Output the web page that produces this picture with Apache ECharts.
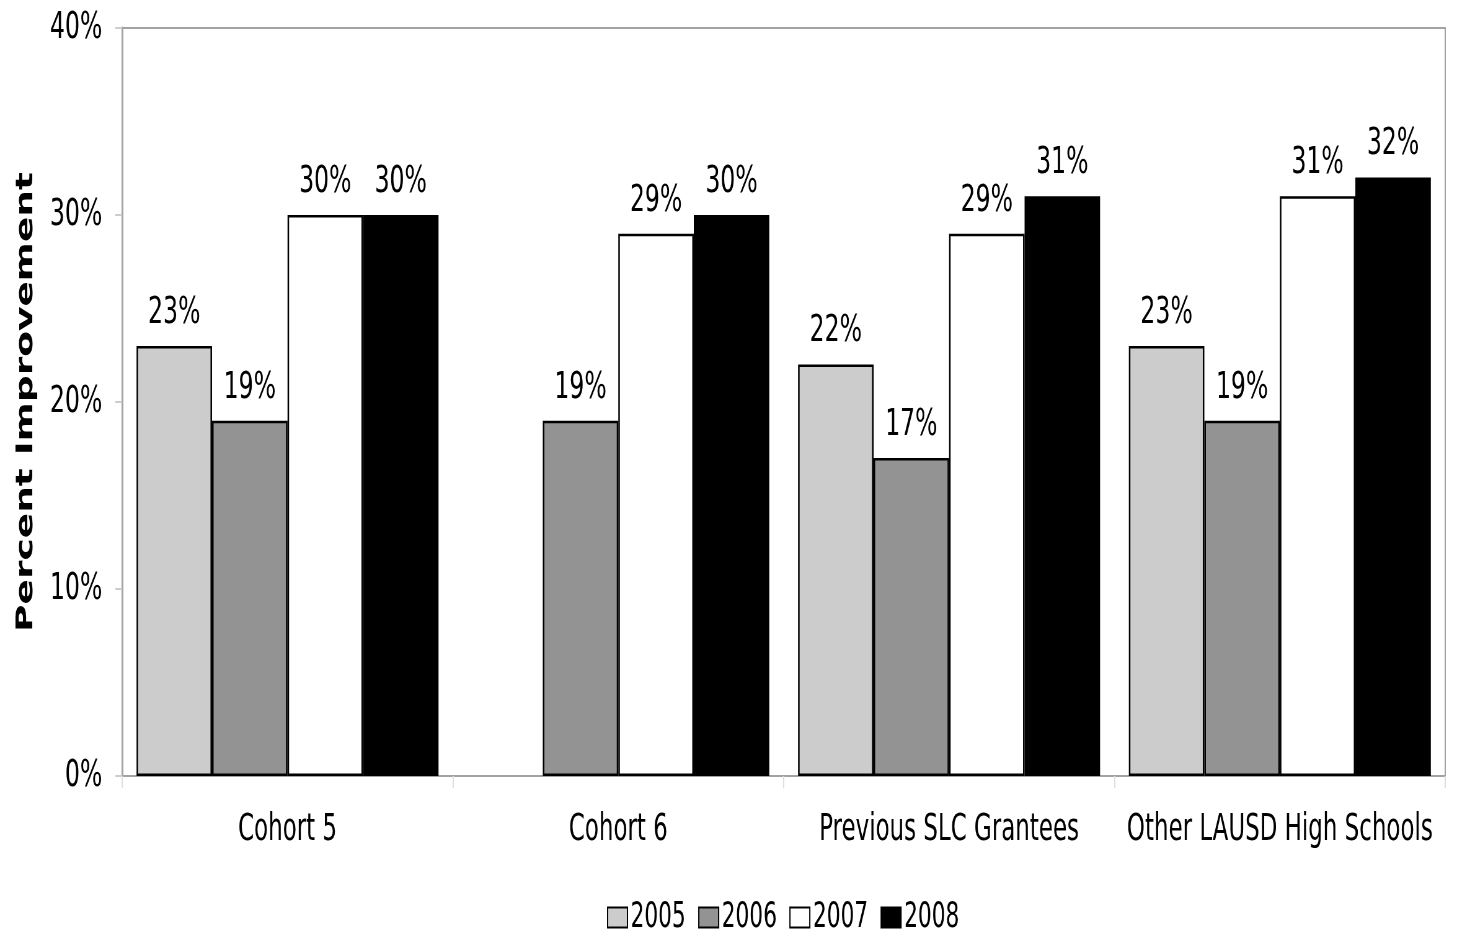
<!DOCTYPE html>
<html>
<head>
<meta charset="utf-8">
<script src="https://cdn.jsdelivr.net/npm/echarts@6/dist/echarts.min.js"></script>
<style>
  html, body { margin: 0; padding: 0; background: #fff; overflow: hidden; }
  #wrap { width: 1457px; height: 931px; overflow: hidden; }
  /* chart is laid out wide, then narrowed horizontally */
  #chart { width: 2350px; height: 931px; transform: scaleX(0.62); transform-origin: 0 0; }
</style>
</head>
<body>
<div id="wrap"><div id="chart"></div></div>
<script>
const categories = ['Cohort 5', 'Cohort 6', 'Previous SLC Grantees', 'Other LAUSD High Schools'];
const years = ['2005', '2006', '2007', '2008'];
const values2005 = [23, null, 22, 23];
const values2006 = [19, 19, 17, 19];
const values2007 = [30, 29, 29, 31];
const values2008 = [30, 30, 31, 32];
const yTicks = [0, 10, 20, 30, 40];

const seriesValues = [values2005, values2006, values2007, values2008];
const fills = ['#cccccc', '#939393', '#ffffff', '#000000'];
const FONT = 'DejaVu Sans';

const chart = echarts.init(document.getElementById('chart'), null, { renderer: 'canvas' });

chart.setOption({
  backgroundColor: '#ffffff',
  animation: false,
  textStyle: { fontFamily: FONT, color: '#000' },
  grid: {
    left: 197, right: 19, top: 28, bottom: 155,
    show: true, borderColor: '#a3a3a3', borderWidth: 2, backgroundColor: 'transparent'
  },
  legend: {
    data: years,
    left: 974, top: 895,
    icon: 'rect',
    itemWidth: 32, itemHeight: 20, itemGap: 20,
    textStyle: { fontFamily: FONT, fontSize: 35, color: '#000' },
    itemStyle: { borderColor: '#000', borderWidth: 2 }
  },
  xAxis: {
    type: 'category',
    data: categories,
    axisLine: { lineStyle: { color: '#a3a3a3', width: 2 } },
    axisTick: { show: true, interval: 0, length: 12, lineStyle: { color: '#dddddd', width: 2 } },
    axisLabel: { interval: 0, fontFamily: FONT, fontSize: 37, color: '#000', margin: 36 }
  },
  yAxis: {
    type: 'value',
    min: yTicks[0], max: yTicks[yTicks.length - 1], interval: 10,
    name: 'Percent Improvement',
    nameLocation: 'middle',
    nameGap: 136,
    nameTextStyle: { fontFamily: FONT, fontWeight: 'bold', fontSize: 37.5, color: '#000' },
    splitLine: { show: false },
    axisLine: { show: true, lineStyle: { color: '#a3a3a3', width: 3 } },
    axisTick: { show: true, length: 11, lineStyle: { color: '#cccccc', width: 2 } },
    axisLabel: { fontFamily: FONT, fontSize: 38, color: '#000', margin: 32, formatter: '{value}%' }
  },
  series: years.map((y, i) => ({
    name: y,
    type: 'bar',
    data: seriesValues[i],
    barGap: '0%',
    barCategoryGap: '8.7%',
    itemStyle: { color: fills[i], borderColor: '#000', borderWidth: 2.5 },
    label: {
      show: true, position: 'top', distance: 14,
      fontFamily: FONT, fontSize: 38, color: '#000',
      formatter: '{c}%'
    }
  }))
});
</script>
</body>
</html>
